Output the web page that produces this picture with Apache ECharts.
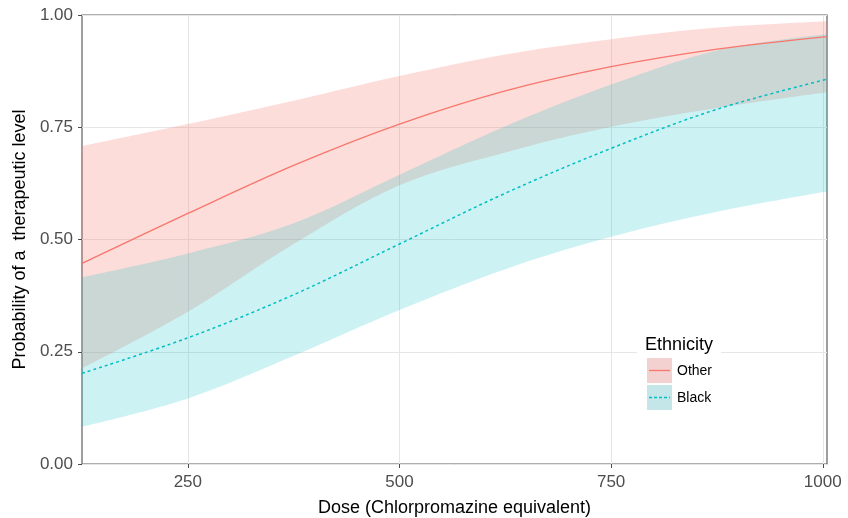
<!DOCTYPE html>
<html>
<head>
<meta charset="utf-8">
<script src="https://cdn.jsdelivr.net/npm/echarts@6/dist/echarts.min.js"></script>
<style>
    html, body { margin: 0; padding: 0; background: #fff; }
    #chart { width: 848px; height: 518px; }
</style>
</head>
<body>
<div id="chart"></div>
<script>
    // dose grid
    const doses = [125, 250, 375, 500, 625, 750, 875, 1005];

    // Ethnicity = Other
    const otherFit  = [0.447, 0.558, 0.665, 0.757, 0.831, 0.885, 0.924, 0.952];
    const otherLow  = [0.213, 0.339, 0.490, 0.621, 0.694, 0.751, 0.793, 0.828];
    const otherHigh = [0.708, 0.757, 0.809, 0.864, 0.912, 0.946, 0.972, 0.986];

    // Ethnicity = Black
    const blackFit  = [0.202, 0.281, 0.377, 0.490, 0.603, 0.703, 0.790, 0.857];
    const blackLow  = [0.083, 0.146, 0.241, 0.343, 0.434, 0.506, 0.562, 0.607];
    const blackHigh = [0.416, 0.469, 0.536, 0.644, 0.752, 0.845, 0.921, 0.957];

    const xTicks = [250, 500, 750, 1000];
    const yTicks = [0, 0.25, 0.5, 0.75, 1];

    const font = 'Liberation Sans, Arial, sans-serif';
    const red = '#F8766D';
    const teal = '#00BFC4';

    function pairs(ys) {
        return doses.map((d, i) => [d, ys[i]]);
    }
    // band rows are [value, dose] so the stack goes on the y value, not on the dose
    function bandRows(ys) {
        return doses.map((d, i) => [ys[i], d]);
    }
    function widthRows(lo, hi) {
        return doses.map((d, i) => [+(hi[i] - lo[i]).toFixed(3), d]);
    }

    function bandSeries(stack, lo, hi, fill) {
        return [{
            type: 'line',
            stack: stack,
            data: bandRows(lo),
            encode: { x: 1, y: 0 },
            smooth: 0.35,
            symbol: 'none',
            lineStyle: { opacity: 0 },
            silent: true
        }, {
            type: 'line',
            stack: stack,
            data: widthRows(lo, hi),
            encode: { x: 1, y: 0 },
            smooth: 0.35,
            symbol: 'none',
            lineStyle: { opacity: 0 },
            areaStyle: { color: fill, opacity: 1 },
            silent: true
        }];
    }

    let myChart = echarts.init(document.getElementById('chart'));
    myChart.setOption({
        animation: false,
        grid: {
            left: 82,
            right: 21,
            top: 15,
            bottom: 54,
            outerBoundsMode: 'none',
            containLabel: false,
            show: true,
            borderColor: '#5f5f5f',
            borderWidth: 1.2
        },
        xAxis: {
            type: 'value',
            min: 125,
            max: 1005,
            interval: 125,
            name: 'Dose (Chlorpromazine equivalent)',
            nameLocation: 'middle',
            nameGap: 35,
            nameTextStyle: { color: '#000', fontSize: 18, fontFamily: font },
            axisLine: { show: false },
            axisTick: { show: true, customValues: xTicks, length: 4, lineStyle: { color: '#4d4d4d' } },
            axisLabel: { customValues: xTicks, color: '#4d4d4d', fontSize: 17, fontFamily: font, margin: 10, formatter: v => String(v) },
            splitLine: { show: true, lineStyle: { color: '#e6e6e6', width: 1 } }
        },
        yAxis: {
            type: 'value',
            min: 0,
            max: 1,
            interval: 0.125,
            name: 'Probability of a  therapeutic level',
            nameLocation: 'middle',
            nameGap: 51,
            nameTextStyle: { color: '#000', fontSize: 18, fontFamily: font },
            axisLine: { show: false },
            axisTick: { show: true, customValues: yTicks, length: 4, lineStyle: { color: '#4d4d4d' } },
            axisLabel: {
                customValues: yTicks,
                color: '#4d4d4d',
                fontSize: 17,
                fontFamily: font,
                margin: 9,
                formatter: v => v.toFixed(2)
            },
            splitLine: { show: true, lineStyle: { color: '#e6e6e6', width: 1 } }
        },
        series: [
            ...bandSeries('other', otherLow, otherHigh, 'rgba(248,118,109,0.25)'),
            ...bandSeries('black', blackLow, blackHigh, 'rgba(0,191,196,0.2)'),
            {
                name: 'Other',
                type: 'line',
                data: pairs(otherFit),
                smooth: 0.35,
                symbol: 'none',
                lineStyle: { color: red, width: 1.3 }
            },
            {
                name: 'Black',
                type: 'line',
                data: pairs(blackFit),
                smooth: 0.35,
                symbol: 'none',
                lineStyle: { color: teal, width: 1.5, type: [3, 3] }
            }
        ],
        graphic: [
            { type: 'rect', shape: { x: 637, y: 328, width: 84, height: 90 }, style: { fill: '#fff' }, z: 100 },
            { type: 'text', x: 645, y: 345, style: { text: 'Ethnicity', fill: '#000', font: '18px ' + font, verticalAlign: 'middle' }, z: 101 },
            { type: 'rect', shape: { x: 647, y: 358, width: 25, height: 25 }, style: { fill: '#F2D1D0' }, z: 101 },
            { type: 'rect', shape: { x: 647, y: 385, width: 25, height: 25 }, style: { fill: '#C5E6E8' }, z: 101 },
            { type: 'line', shape: { x1: 649, y1: 370.5, x2: 670, y2: 370.5 }, style: { stroke: red, lineWidth: 1.3 }, z: 102 },
            { type: 'line', shape: { x1: 649, y1: 397.5, x2: 670, y2: 397.5 }, style: { stroke: teal, lineWidth: 1.5, lineDash: [3, 2] }, z: 102 },
            { type: 'text', x: 677, y: 371, style: { text: 'Other', fill: '#000', font: '14px ' + font, verticalAlign: 'middle' }, z: 101 },
            { type: 'text', x: 677, y: 398, style: { text: 'Black', fill: '#000', font: '14px ' + font, verticalAlign: 'middle' }, z: 101 }
        ]
    });
</script>
</body>
</html>
